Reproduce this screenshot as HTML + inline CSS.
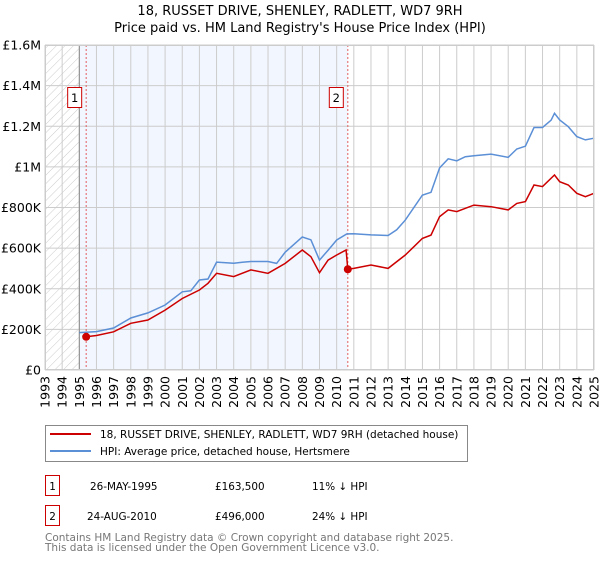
<!DOCTYPE html>
<html><head><meta charset="utf-8"><style>
body{margin:0;background:#fff;font-family:"DejaVu Sans","Liberation Sans",sans-serif;}
svg text{font-family:"DejaVu Sans","Liberation Sans",sans-serif;}
</style></head><body>
<svg id="c" width="600" height="560" viewBox="0 0 600 560">
<defs><pattern id="hatch" width="6" height="6" patternUnits="userSpaceOnUse" patternTransform="rotate(45)"><line x1="0" y1="0" x2="0" y2="6" stroke="#ccc" stroke-width="1"/></pattern></defs>
<text x="300" y="15" text-anchor="middle" font-size="13">18, RUSSET DRIVE, SHENLEY, RADLETT, WD7 9RH</text>
<text x="300" y="32" text-anchor="middle" font-size="13">Price paid vs. HM Land Registry's House Price Index (HPI)</text>
<g id="plot"></g>
<g>
<rect x="45.5" y="425.5" width="422" height="36" fill="#fff" stroke="#888"/>
<line x1="50" y1="434" x2="91" y2="434" stroke="#cc0000" stroke-width="2"/>
<text x="100" y="438" font-size="10.5">18, RUSSET DRIVE, SHENLEY, RADLETT, WD7 9RH (detached house)</text>
<line x1="50" y1="451" x2="91" y2="451" stroke="#5b8fd6" stroke-width="2"/>
<text x="100" y="455" font-size="10.5">HPI: Average price, detached house, Hertsmere</text>
</g>
<g font-size="10.4">
<rect x="45.5" y="475.5" width="14" height="20" fill="#fff" stroke="#cc0000"/>
<text x="52.5" y="490" text-anchor="middle">1</text>
<text x="90" y="490">26-MAY-1995</text><text x="215" y="490">£163,500</text><text x="312" y="490">11% ↓ HPI</text>
<rect x="45.5" y="505.5" width="14" height="20" fill="#fff" stroke="#cc0000"/>
<text x="52.5" y="520" text-anchor="middle">2</text>
<text x="87" y="520">24-AUG-2010</text><text x="215" y="520">£496,000</text><text x="312" y="520">24% ↓ HPI</text>
</g>
<text x="45" y="541" font-size="10.5" fill="#777">Contains HM Land Registry data © Crown copyright and database right 2025.</text>
<text x="45" y="551" font-size="10.5" fill="#777">This data is licensed under the Open Government Licence v3.0.</text>
</svg>
<script>
const hpiYears=[1995.0,1996,1997,1998,1999,2000,2001,2001.5,2002,2002.5,2003,2004,2004.5,2005,2006,2006.5,2007,2008,2008.5,2009,2009.5,2010,2010.6,2011,2012,2013,2013.5,2014,2015,2015.5,2016,2016.5,2017,2017.5,2018,2019,2020,2020.5,2021,2021.5,2022,2022.5,2022.7,2023,2023.5,2024,2024.5,2025];
const hpiValues=[184000,189000,207000,256000,281000,320000,385000,390000,443000,448000,531000,526000,530000,534000,534000,525000,580000,655000,641000,541000,590000,640000,670000,671000,665000,662000,690000,738000,861000,875000,995000,1040000,1030000,1050000,1055000,1063000,1047000,1088000,1102000,1194000,1194000,1230000,1264000,1231000,1198000,1149000,1133000,1141000];
const ppYears=[1995.4,1996,1997,1998,1999,2000,2001,2002,2002.5,2003,2004,2005,2006,2007,2008,2008.5,2009,2009.5,2010,2010.55,2010.65,2011,2012,2013,2014,2014.5,2015,2015.5,2016,2016.5,2017,2018,2019,2020,2020.5,2021,2021.5,2022,2022.7,2023,2023.5,2024,2024.5,2025];
const ppValues=[163500,170000,188000,230000,246000,295000,352000,394000,427000,476000,460000,493000,476000,525000,591000,558000,479000,541000,566000,591000,496000,500000,517000,500000,566000,607000,648000,664000,755000,788000,780000,812000,804000,788000,820000,829000,911000,903000,960000,927000,911000,870000,853000,870000];
const saleYears=[1995.4,2010.65];
const saleValues=[163500,496000];
const saleLabels=["1","2"];
const yTicks=[0,200000,400000,600000,800000,1000000,1200000,1400000,1600000];
const yTickLabels=["£0","£200K","£400K","£600K","£800K","£1M","£1.2M","£1.4M","£1.6M"];
const xStart=1993,xEnd=2025;
const L=45,R=594,T=45,B=370;
const X=y=>L+(y-xStart)/(xEnd-xStart)*(R-L);
const Y=v=>B-v/1600000*(B-T);
const NS="http://www.w3.org/2000/svg";
const g=document.getElementById('plot');
function mk(t,a,p){const e=document.createElementNS(NS,t);for(const k in a)e.setAttribute(k,a[k]);(p||g).appendChild(e);return e;}
let e;
e=mk('rect',{x:L,y:T,width:R-L,height:B-T,fill:'#fff'});


e=mk('rect',{x:L,y:T,width:X(1995)-L,height:B-T,fill:'url(#hatch)'});


e=mk('rect',{x:X(1995),y:T,width:X(saleYears[1])-X(1995),height:B-T,fill:'#f2f6fe'});


for(let yr=xStart;yr<=xEnd;yr++){
 e=mk('line',{x1:X(yr),x2:X(yr),y1:T,y2:B,stroke:'#cccccc','stroke-width':1});
 
 
 e=mk('text',{x:0,y:0,'font-size':12.5,'text-anchor':'end',transform:`translate(${X(yr)+4.5},376) rotate(-90)`});
 e.textContent=yr;
 
 
}
yTicks.forEach((v,i)=>{
 e=mk('line',{x1:L,x2:R,y1:Y(v),y2:Y(v),stroke:'#cccccc','stroke-width':1});
 
 
 e=mk('text',{x:41,y:Y(v)+4.5,'font-size':12.5,'text-anchor':'end'});
 e.textContent=yTickLabels[i];
 
 
});
e=mk('line',{x1:X(1995),x2:X(1995),y1:T,y2:B,stroke:'#888','stroke-width':1});


saleYears.forEach((yr,i)=>{
 e=mk('line',{x1:X(yr),x2:X(yr),y1:T,y2:B,stroke:'#e06060','stroke-width':1,'stroke-dasharray':'2,2'});
 
 
});
function pts(xs,vs){return xs.map((x,i)=>X(x).toFixed(1)+','+Y(vs[i]).toFixed(1)).join(' ');}
e=mk('polyline',{points:pts(hpiYears,hpiValues),fill:'none',stroke:'#5b8fd6','stroke-width':1.5});


e=mk('polyline',{points:pts(ppYears,ppValues),fill:'none',stroke:'#cc0000','stroke-width':1.5});


saleYears.forEach((yr,i)=>{
 e=mk('circle',{cx:X(yr),cy:Y(saleValues[i]),r:4,fill:'#cc0000'});
 
 
 const bx=X(yr)-19;
 e=mk('rect',{x:bx+0.5,y:87.5,width:14,height:20,fill:'#fff',stroke:'#cc0000'});
 
 
 e=mk('text',{x:bx+7.5,y:102,'font-size':11.5,'text-anchor':'middle'});
 e.textContent=saleLabels[i];
 
 
});
e=mk('rect',{x:L+0.5,y:T+0.5,width:R-L-1,height:B-T-1,fill:'none',stroke:'#cccccc'});


</script>
</body></html>
